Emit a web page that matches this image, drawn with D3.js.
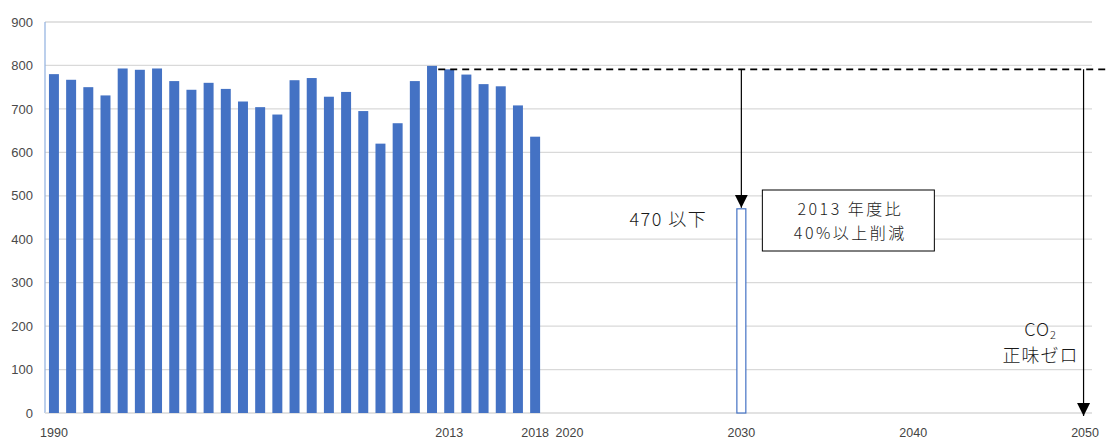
<!DOCTYPE html>
<html>
<head>
<meta charset="utf-8">
<script src="https://cdn.jsdelivr.net/npm/d3@7"></script>
<style>
  html, body { margin: 0; padding: 0; background: #fff; }
  svg { display: block; }
</style>
</head>
<body>
<svg id="chart" width="1106" height="441"></svg>
<script>
// ---- data ----
const years = d3.range(1990, 2051);               // categories on the x axis
const histYears = d3.range(1990, 2019);
const emissions = [780, 767, 750, 731, 793, 790, 793, 764, 744, 760,
                   746, 717, 704, 687, 766, 771, 728, 739, 695, 620,
                   667, 764, 799, 791, 779, 757, 752, 708, 636];
const targetYear = [2030];
const targetValue = [470];
const xTickLabels = [1990, 2013, 2018, 2020, 2030, 2040, 2050];
const yTicks = [0, 100, 200, 300, 400, 500, 600, 700, 800, 900];
const baseYear = 2013;
const netZeroYear = 2050;

// ---- layout ----
const svg = d3.select("#chart");
const pL = 45, pR = 1094, pT = 22, pB = 413;
const x = d3.scaleBand().domain(years).range([pL, pR])
  .paddingInner(0.42).paddingOuter(0.23);
const y = d3.scaleLinear().domain([0, 900]).range([pB, pT]);
const blue = "#4472C4";

// gridlines
svg.append("g").selectAll("line").data(yTicks.filter(d => d > 0)).join("line")
  .attr("x1", pL).attr("x2", 1092)
  .attr("y1", d => y(d)).attr("y2", d => y(d))
  .attr("stroke", "#d9d9d9").attr("stroke-width", 1.3);

// y axis labels
const yAxis = svg.append("g").attr("transform", `translate(${pL - 10},0)`)
  .call(d3.axisLeft(y).tickValues(yTicks).tickSize(0).tickPadding(2));
yAxis.select(".domain").remove();
yAxis.selectAll("text").attr("fill", "#4a4a4a")
  .style("font-family", "'Liberation Sans', Arial, sans-serif").style("font-size", "13px");

// left axis line (light blue)
svg.append("line").attr("x1", pL).attr("x2", pL).attr("y1", pT).attr("y2", pB)
  .attr("stroke", "#8fb0e0").attr("stroke-width", 1.2);

// x baseline
svg.append("line").attr("x1", pL).attr("x2", 1092).attr("y1", pB).attr("y2", pB)
  .attr("stroke", "#d9d9d9").attr("stroke-width", 1.3);

// x axis labels
const xAxis = svg.append("g").attr("transform", `translate(0,${pB})`)
  .call(d3.axisBottom(x).tickValues(xTickLabels).tickSize(0).tickPadding(15));
xAxis.select(".domain").remove();
xAxis.selectAll("text").attr("fill", "#444")
  .style("font-family", "'Liberation Sans Narrow', 'Liberation Sans', Arial, sans-serif")
  .style("font-size", "12.5px");

// historical bars
svg.append("g").selectAll("rect").data(histYears).join("rect")
  .attr("x", d => x(d)).attr("width", x.bandwidth())
  .attr("y", (d, i) => y(emissions[i]))
  .attr("height", (d, i) => y(0) - y(emissions[i]))
  .attr("fill", blue);

// target bar (outlined)
svg.append("g").selectAll("rect").data(targetYear).join("rect")
  .attr("x", d => x(d) + 0.5).attr("width", x.bandwidth() - 1)
  .attr("y", (d, i) => y(targetValue[i]))
  .attr("height", (d, i) => y(0) - y(targetValue[i]))
  .attr("fill", "#fff").attr("stroke", blue).attr("stroke-width", 1.2);

// dashed reference line at 2013 level
const baseVal = emissions[histYears.indexOf(baseYear)];
svg.append("line")
  .attr("x1", x(baseYear) - 6).attr("x2", 1106)
  .attr("y1", y(baseVal)).attr("y2", y(baseVal))
  .attr("stroke", "#000").attr("stroke-width", 1.6).attr("stroke-dasharray", "7,5");

// arrows
const defs = svg.append("defs");
defs.append("marker").attr("id", "arrow").attr("viewBox", "0 0 10 10")
  .attr("refX", 10).attr("refY", 5).attr("markerWidth", 13).attr("markerHeight", 14)
  .attr("markerUnits", "userSpaceOnUse").attr("orient", "auto")
  .append("path").attr("d", "M0,0 L10,5 L0,10 Z").attr("fill", "#000");

function arrow(xc, y1, y2) {
  svg.append("line").attr("x1", xc).attr("x2", xc).attr("y1", y1).attr("y2", y2)
    .attr("stroke", "#000").attr("stroke-width", 1.2).attr("marker-end", "url(#arrow)");
}
const xc2030 = x(targetYear[0]) + x.bandwidth() / 2;
const xc2050 = x(netZeroYear) + x.bandwidth() / 2 - 1.5;
arrow(xc2030, y(baseVal), y(targetValue[0]) - 1);
arrow(xc2050, y(baseVal), y(0) + 3);

const jp = "'Noto Sans CJK JP', 'Noto Sans', sans-serif";
function label(xp, yp, ls, fs) {
  return svg.append("text").attr("x", xp).attr("y", yp)
    .attr("text-anchor", "middle").style("font-family", jp).style("font-size", (fs || 18) + "px")
    .style("font-weight", 300).style("letter-spacing", (ls || 1.5) + "px")
    .attr("fill", "#1a1a1a");
}

// "470 以下"
label(xc2030 - 73, y(targetValue[0]) + 17).text("470 以下");

// annotation box
const bx = xc2030 + 21, by = 190, bw = 172, bh = 61;
svg.append("rect").attr("x", bx).attr("y", by).attr("width", bw).attr("height", bh)
  .attr("fill", "#fff").attr("stroke", "#000").attr("stroke-width", 1);
label(bx + bw / 2 + 2, by + 25, 2.5, 16).text("2013 年度比");
label(bx + bw / 2 + 2, by + 49, 2.5, 16).text("40%以上削減");

// CO2 net zero (one text element)
const nz = label(xc2050 - 43, 336, 1);
nz.append("tspan").attr("x", xc2050 - 43).text("CO");
nz.append("tspan").attr("dy", 3).style("font-size", "11px").text("2");
nz.append("tspan").attr("x", xc2050 - 43).attr("dy", 23).text("正味ゼロ");
</script>
</body>
</html>
